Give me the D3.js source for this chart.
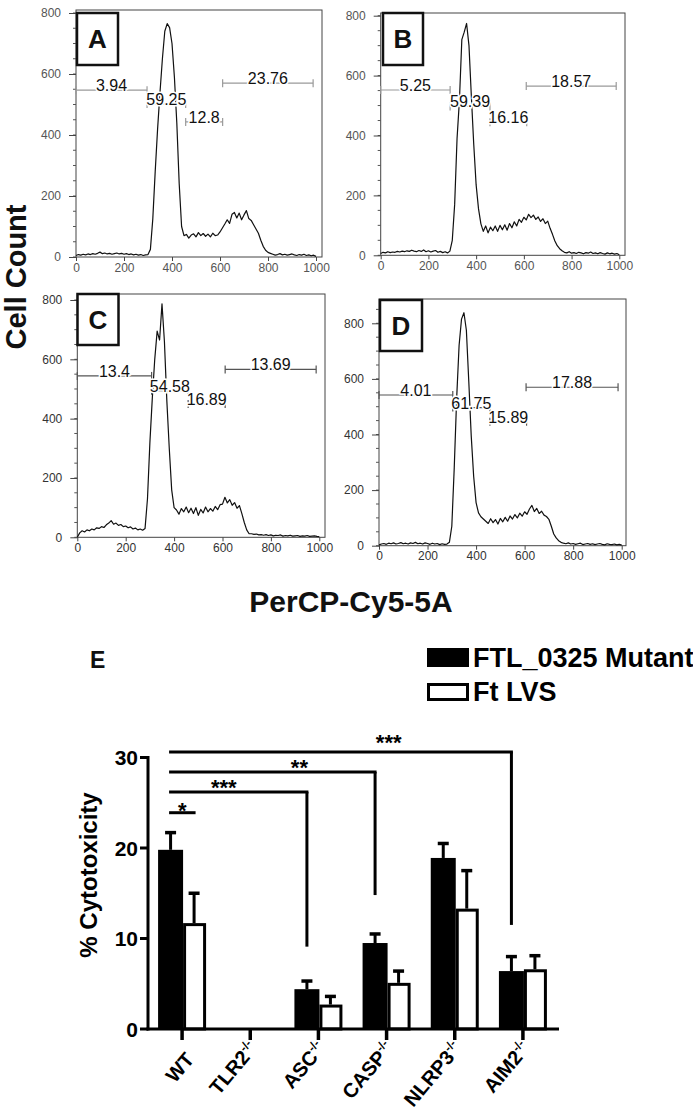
<!DOCTYPE html>
<html><head><meta charset="utf-8">
<script src="https://cdn.jsdelivr.net/npm/d3@7"></script>
<style>body{margin:0;background:#fff}svg{display:block}text{font-family:"Liberation Sans",Arial,sans-serif}</style>
</head><body><svg id="c" width="693" height="1117"></svg>
<script>
// ---------- DATA ----------
// flow cytometry channel bins (PerCP-Cy5-5A)
const channel = [0,10,20,30,40,50,60,70,80,90,100,110,120,130,140,150,160,170,180,190,200,210,220,230,240,250,260,270,280,290,300,310,320,330,340,350,360,370,380,390,400,410,420,430,440,450,460,470,480,490,500,510,520,530,540,550,560,570,580,590,600,610,620,630,640,650,660,670,680,690,700,710,720,730,740,750,760,770,780,790,800,810,820,830,840,850,860,870,880,890,900,910,920,930,940,950,960,970,980,990,1000];
const countsA = [5,8,6,9,7,10,8,11,9,12, 16,11,13,10,12,9,11,13,10,12, 9,11,8,10,7,9,6,8,5,7, 8,25,125,280,420,540,650,740,765,752, 700,590,440,240,100,70,74,62,72,76, 66,80,70,77,68,75,66,78,70,72, 82,95,108,122,110,140,146,128,144,122, 138,152,126,120,106,92,78,55,35,22, 15,12,9,6,8,11,7,9,6,8, 10,7,5,8,6,9,5,7,4,6, 2];
const countsB = [6,10,8,12,9,11,10,13,11,14, 12,15,13,17,14,12,16,13,18,12, 15,11,14,16,10,13,9,12,8,14, 50,170,390,518,720,745,774,700,530,370, 235,155,105,80,98,75,94,82,98,80, 100,85,102,84,106,92,112,98,120,110, 127,118,137,126,134,120,128,113,122,106, 114,90,70,48,32,22,15,10,8,12, 7,9,6,10,8,5,9,7,11,6, 8,5,9,6,4,8,5,7,4,6, 2];
const countsC = [0,15,22,18,25,22,28,25,32,30, 36,33,42,48,56,44,48,40,43,36, 38,32,35,28,31,25,28,24,30,130, 320,470,600,695,665,787,660,460,300,160, 100,92,78,97,86,102,83,98,80,100, 74,94,82,102,86,97,88,104,93,110, 112,135,116,127,108,117,98,107,80,50, 25,12,12,10,11,8,9,7,9,6, 8,5,7,6,8,4,6,5,7,4, 5,6,3,5,4,6,3,4,5,3, 2];
const countsD = [3,6,8,5,9,7,10,6,8,11, 7,9,6,10,8,12,7,9,6,10, 8,5,9,6,8,4,7,5,6,12, 70,280,530,720,815,838,775,590,395,250, 155,118,104,96,88,80,97,83,94,78, 98,86,102,88,107,96,112,100,117,106, 122,113,132,145,123,134,116,124,110,105, 95,70,42,28,18,12,9,7,10,6, 8,5,7,9,4,6,8,5,7,4, 6,8,5,3,7,5,4,6,3,5, 2];
const histYTicks = [0,200,400,600,800];
const histXTicks = [0,200,400,600,800,1000];
// gates: [from, to, level, label]
const gatesA = [[0,296,547,"3.94"],[296,457,502,"59.25"],[457,611,443,"12.8"],[611,988,570,"23.76"]];
const gatesB = [[0,291,552,"5.25"],[291,458,497,"59.39"],[458,612,444,"16.16"],[610,987,565,"18.57"]];
const gatesC = [[0,307,544,"13.4"],[307,458,494,"54.58"],[458,611,449,"16.89"],[611,987,566,"13.69"]];
const gatesD = [[0,304,542,"4.01"],[304,457,497,"61.75"],[457,608,446,"15.89"],[606,985,570,"17.88"]];

// bar chart E
const groups = ["WT","TLR2","ASC","CASP","NLRP3","AIM2"];
const groupSup = ["","-/-","-/-","-/-","-/-","-/-"];
const mutantMean = [19.8,0,4.4,9.5,18.9,6.4];
const mutantErr  = [1.9,0,0.9,1.0,1.6,1.6];
const lvsMean    = [11.7,0,2.7,5.1,13.3,6.6];
const lvsErr     = [3.3,0,0.9,1.3,4.2,1.5];
const barYTicks  = [0,10,20,30];
const seriesNames = ["FTL_0325 Mutant","Ft LVS"];
// significance: compared against WT mutant; bracket level, drop-to level, label
const sigTo    = ["WT","ASC","CASP","AIM2"];
const sigLevel = [23.9,26.2,28.4,30.6];
const sigDrop  = [null,9.1,14.8,11.5];
const sigLabel = ["*","***","**","***"];

// ---------- LAYOUT ----------
const svg = d3.select("#c");
svg.append("rect").attr("width",693).attr("height",1117).attr("fill","#fff");

const panels = [
  {id:"A",counts:countsA,gates:gatesA,x0:76,x1:316,y0:257,y8:13,top:10,right:322,font:'"Liberation Serif",serif',tc:"#555",gc:"#9a9a9a",box:[77,13,41,52]},
  {id:"B",counts:countsB,gates:gatesB,x0:380.7,x1:619.3,y0:255.3,y8:15.7,top:13,right:625,font:'"Liberation Serif",serif',tc:"#555",gc:"#9a9a9a",box:[383,13,40,52]},
  {id:"C",counts:countsC,gates:gatesC,x0:77.3,x1:319.3,y0:537.3,y8:300,top:294,right:325,font:'"Liberation Sans",Arial,sans-serif',tc:"#333",gc:"#555",box:[77.5,294,41,51]},
  {id:"D",counts:countsD,gates:gatesD,x0:379,x1:621.7,y0:545.7,y8:323.3,top:299,right:626,font:'"Liberation Sans",Arial,sans-serif',tc:"#333",gc:"#555",box:[380,300,42,51]}
];

panels.forEach(p=>{
  const x = d3.scaleLinear([0,1000],[p.x0,p.x1]);
  const y = d3.scaleLinear([0,800],[p.y0,p.y8]);
  const g = svg.append("g");
  g.append("rect").attr("x",p.x0).attr("y",p.top).attr("width",p.right-p.x0).attr("height",p.y0-p.top)
    .attr("fill","none").attr("stroke","#444").attr("stroke-width",1);
  const yMax = y.invert(p.top);
  const minorY = d3.range(0, yMax, 50);
  g.selectAll(".my").data(minorY).join("line").attr("x1",p.x0-3).attr("x2",p.x0)
    .attr("y1",d=>y(d)).attr("y2",d=>y(d)).attr("stroke","#555");
  const ya = g.append("g").attr("transform",`translate(${p.x0},0)`)
    .call(d3.axisLeft(y).tickValues(histYTicks).tickFormat(d3.format("d")).tickSize(7).tickPadding(8));
  ya.select(".domain").remove();
  ya.selectAll("line").attr("stroke","#444");
  ya.selectAll("text").attr("font-family",p.font).attr("font-size",12).attr("fill",p.tc);
  const xa = g.append("g").attr("transform",`translate(0,${p.y0})`)
    .call(d3.axisBottom(x).tickValues(histXTicks).tickFormat(d3.format("d")).tickSize(4).tickPadding(2));
  xa.select(".domain").remove();
  xa.selectAll("line").attr("stroke","#444");
  xa.selectAll("text").attr("font-family",p.font).attr("font-size",12).attr("fill",p.tc);
  // histogram
  const line = d3.line().x(d=>x(d[0])).y(d=>y(d[1]));
  g.append("path").attr("d",line(channel.map((c,i)=>[c,p.counts[i]])))
    .attr("fill","none").attr("stroke","#111").attr("stroke-width",1.2).attr("stroke-linejoin","round");
  // gates
  p.gates.forEach(gt=>{
    const [a,b,lv,lab]=gt;
    g.append("line").attr("x1",x(a)).attr("x2",x(b)).attr("y1",y(lv)).attr("y2",y(lv)).attr("stroke",p.gc).attr("stroke-width",1.2);
    [a,b].forEach(e=>g.append("line").attr("x1",x(e)).attr("x2",x(e)).attr("y1",y(lv)-4).attr("y2",y(lv)+4).attr("stroke",p.gc).attr("stroke-width",1.2));
    g.append("text").attr("x",x((a+b)/2)).attr("y",y(lv)+1).attr("text-anchor","middle")
      .attr("font-size",16).attr("fill","#111").attr("stroke","#fff").attr("stroke-width",3)
      .attr("paint-order","stroke").text(lab);
  });
  // letter box
  const [bx,by,bw,bh]=p.box;
  g.append("rect").attr("x",bx).attr("y",by).attr("width",bw).attr("height",bh).attr("fill","#fff").attr("stroke","#111").attr("stroke-width",2.5);
  g.append("text").attr("x",bx+bw/2).attr("y",by+bh/2+9).attr("text-anchor","middle").attr("font-size",26).attr("font-weight","bold").attr("fill","#111").text(p.id);
});

svg.append("text").attr("transform","translate(26,277) rotate(-90)").attr("text-anchor","middle")
  .attr("font-size",29).attr("font-weight","bold").attr("fill","#111").text("Cell Count");
svg.append("text").attr("x",351).attr("y",612).attr("text-anchor","middle")
  .attr("font-size",30).attr("font-weight","bold").attr("fill","#111").text("PerCP-Cy5-5A");

// ---------- Panel E ----------
svg.append("text").attr("x",90).attr("y",668).attr("font-size",23).attr("font-weight","bold").attr("fill","#111").text("E");
// legend
svg.append("rect").attr("x",427).attr("y",648).attr("width",42).attr("height",19).attr("fill","#000");
svg.append("rect").attr("x",428.5).attr("y",684.5).attr("width",39).attr("height",15).attr("fill","#fff").attr("stroke","#000").attr("stroke-width",3);
svg.append("text").attr("x",473).attr("y",667).attr("font-size",27).attr("font-weight","bold").attr("fill","#000").text(seriesNames[0]);
svg.append("text").attr("x",473).attr("y",701).attr("font-size",27).attr("font-weight","bold").attr("fill","#000").text(seriesNames[1]);

const xb = d3.scaleBand().domain(groups).range([149,558]);
const yb = d3.scaleLinear([0,30],[1029,757.5]);
const cx = g => xb(g)+xb.bandwidth()/2;
const eg = svg.append("g");
// bars
groups.forEach((g,i)=>{
  const c = cx(g);
  if (mutantMean[i]>0){
    eg.append("line").attr("x1",c-12.5).attr("x2",c-12.5).attr("y1",yb(mutantMean[i])).attr("y2",yb(mutantMean[i]+mutantErr[i])).attr("stroke","#000").attr("stroke-width",3);
    eg.append("line").attr("x1",c-18).attr("x2",c-7).attr("y1",yb(mutantMean[i]+mutantErr[i])).attr("y2",yb(mutantMean[i]+mutantErr[i])).attr("stroke","#000").attr("stroke-width",3.5);
    eg.append("rect").attr("x",c-25).attr("y",yb(mutantMean[i])).attr("width",25).attr("height",yb(0)-yb(mutantMean[i])).attr("fill","#000");
  }
  if (lvsMean[i]>0){
    eg.append("line").attr("x1",c+11).attr("x2",c+11).attr("y1",yb(lvsMean[i])).attr("y2",yb(lvsMean[i]+lvsErr[i])).attr("stroke","#000").attr("stroke-width",3);
    eg.append("line").attr("x1",c+5.5).attr("x2",c+16.5).attr("y1",yb(lvsMean[i]+lvsErr[i])).attr("y2",yb(lvsMean[i]+lvsErr[i])).attr("stroke","#000").attr("stroke-width",3.5);
    eg.append("rect").attr("x",c+1.5).attr("y",yb(lvsMean[i])+1.5).attr("width",20).attr("height",yb(0)-yb(lvsMean[i])-1.5).attr("fill","#fff").attr("stroke","#000").attr("stroke-width",3);
  }
});
// axes
eg.append("line").attr("x1",148).attr("x2",148).attr("y1",756).attr("y2",1030.5).attr("stroke","#000").attr("stroke-width",3);
eg.append("line").attr("x1",146.5).attr("x2",559).attr("y1",1029).attr("y2",1029).attr("stroke","#000").attr("stroke-width",3);
barYTicks.forEach(t=>{
  eg.append("line").attr("x1",140).attr("x2",148).attr("y1",yb(t)).attr("y2",yb(t)).attr("stroke","#000").attr("stroke-width",3);
  eg.append("text").attr("x",138).attr("y",yb(t)+7.5).attr("text-anchor","end").attr("font-size",21).attr("font-weight","bold").attr("fill","#000").text(t);
});
groups.forEach((g,i)=>{
  const c = cx(g)-1;
  eg.append("line").attr("x1",c).attr("x2",c).attr("y1",1029).attr("y2",1040).attr("stroke","#000").attr("stroke-width",3.5);
  const off = groupSup[i] ? [8,1049] : [13,1060];
  const t = eg.append("text").attr("transform",`translate(${c+off[0]},${off[1]}) rotate(-50)`).attr("text-anchor","end")
    .attr("font-size",20).attr("font-weight","bold").attr("fill","#000");
  t.append("tspan").text(g);
  if (groupSup[i]) t.append("tspan").attr("font-size",12).attr("dy",-8).text(groupSup[i]);
});
svg.append("text").attr("transform","translate(97,875) rotate(-90)").attr("text-anchor","middle")
  .attr("font-size",24).attr("font-weight","bold").attr("fill","#000").text("% Cytotoxicity");
// significance brackets
const starFrac = [0.5,0.39,0.63,0.64];
const starDy = [5,3.5,3.5,-2];
sigTo.forEach((to,k)=>{
  const xa = cx("WT")-12.5;
  const xe = k===0 ? cx("WT")+11 : cx(to)-12.5;
  const ly = yb(sigLevel[k]);
  eg.append("line").attr("x1",xa-1.5).attr("x2",xe+1.5).attr("y1",ly).attr("y2",ly).attr("stroke","#000").attr("stroke-width",3);
  if (sigDrop[k]!==null) eg.append("line").attr("x1",xe).attr("x2",xe).attr("y1",ly).attr("y2",yb(sigDrop[k])).attr("stroke","#000").attr("stroke-width",3);
  eg.append("text").attr("x",xa+(xe-xa)*starFrac[k]).attr("y",ly+starDy[k]).attr("text-anchor","middle")
    .attr("font-size",22).attr("font-weight","bold").attr("fill","#000").text(sigLabel[k]);
});
</script></body></html>
